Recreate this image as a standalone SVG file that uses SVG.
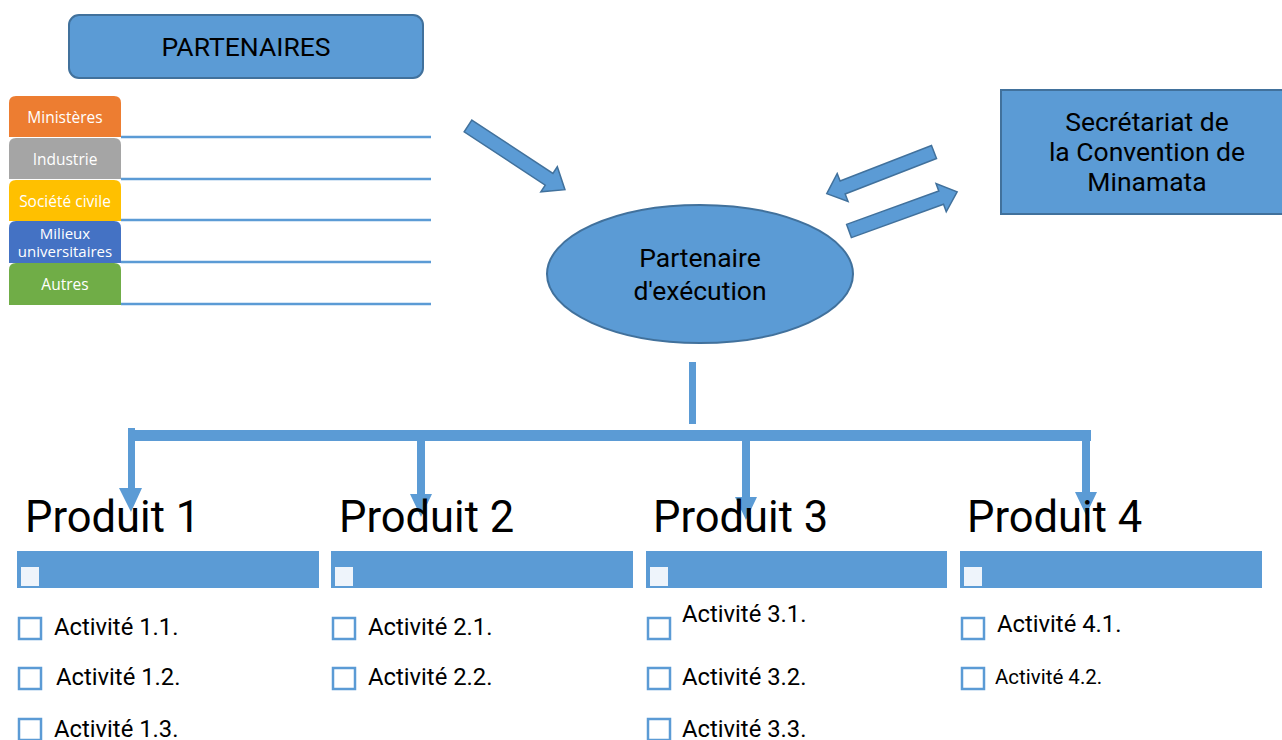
<svg xmlns="http://www.w3.org/2000/svg" width="1282" height="740" viewBox="0 0 1282 740">
  <style>
    .blue { fill: #5B9BD5; }
    .shape { fill: #5B9BD5; stroke: #41719C; stroke-width: 2; }
    .barrow { fill: #5B9BD5; stroke: #41719C; stroke-width: 1.5; stroke-linejoin: miter; }
    .title { font-family: Roboto, "Liberation Sans", sans-serif; fill: #000; text-anchor: middle; }
    .tab { font-family: "Open Sans", "Noto Sans", sans-serif; font-size: 15.5px; fill: #fff; text-anchor: middle; }
    .tab2 { font-size: 15px; }
    .rule { stroke: #5B9BD5; stroke-width: 2.5; }
    .prod { font-family: Roboto, "Liberation Sans", sans-serif; font-size: 43.5px; fill: #000; }
    .act { font-family: Roboto, "Liberation Sans", sans-serif; font-size: 23.8px; fill: #000; }
    .act-sm { font-size: 20.5px; }
    .chk { fill: #fff; stroke: #5B9BD5; stroke-width: 2.5; }
    .mini { fill: #EEF4FB; }
  </style>

  <rect width="1282" height="740" fill="#fff"/>

  <!-- Partners header -->
  <g id="partenaires">
    <rect class="shape" x="69" y="15" width="354" height="63" rx="10"/>
    <text class="title" x="246" y="56" font-size="26.5">PARTENAIRES</text>
  </g>

  <!-- Partner categories -->
  <g id="categories">
    <g id="cat-ministeres">
      <path d="M9 137 V103 Q9 96 16 96 H114 Q121 96 121 103 V137 Z" fill="#ED7D31"/>
      <line class="rule" x1="121" y1="137" x2="431" y2="137"/>
      <text class="tab" x="65" y="123">Ministères</text>
    </g>
    <g id="cat-industrie">
      <path d="M9 179 V145 Q9 138 16 138 H114 Q121 138 121 145 V179 Z" fill="#A5A5A5"/>
      <line class="rule" x1="121" y1="179" x2="431" y2="179"/>
      <text class="tab" x="65" y="165">Industrie</text>
    </g>
    <g id="cat-societe">
      <path d="M9 221 V187 Q9 180 16 180 H114 Q121 180 121 187 V221 Z" fill="#FFC000"/>
      <line class="rule" x1="121" y1="220" x2="431" y2="220"/>
      <text class="tab" x="65" y="207">Société civile</text>
    </g>
    <g id="cat-milieux">
      <path d="M9 263 V228 Q9 221 16 221 H114 Q121 221 121 228 V263 Z" fill="#4472C4"/>
      <line class="rule" x1="121" y1="262" x2="431" y2="262"/>
      <text class="tab tab2" x="65" y="239">Milieux</text>
      <text class="tab tab2" x="65" y="257">universitaires</text>
    </g>
    <g id="cat-autres">
      <path d="M9 305 V270 Q9 263 16 263 H114 Q121 263 121 270 V305 Z" fill="#70AD47"/>
      <line class="rule" x1="121" y1="304" x2="431" y2="304"/>
      <text class="tab" x="65" y="290">Autres</text>
    </g>
  </g>

  <!-- Implementing partner -->
  <g id="partenaire-execution">
    <ellipse class="shape" cx="700" cy="274" rx="153" ry="69"/>
    <text class="title" x="700" y="267" font-size="26.5">Partenaire</text>
    <text class="title" x="700" y="300" font-size="26.5">d'exécution</text>
  </g>

  <!-- Convention secretariat -->
  <g id="secretariat">
    <rect class="shape" x="1001" y="90" width="290" height="124"/>
    <text class="title" x="1147" y="131" font-size="26.5">Secrétariat de</text>
    <text class="title" x="1147" y="161" font-size="26.5">la Convention de</text>
    <text class="title" x="1147" y="191" font-size="26.5">Minamata</text>
  </g>

  <!-- Connectors -->
  <g id="connectors">
    <!-- block arrows -->
    <polygon class="barrow" transform="translate(468 126) rotate(33.3)" points="0,-7 97,-7 97,-15 116,0 97,15 97,7 0,7"/>
    <polygon class="barrow" transform="translate(934 152) rotate(158.8)" points="0,-7 98,-7 98,-15 115,0 98,15 98,7 0,7"/>
    <polygon class="barrow" transform="translate(849 231) rotate(-19.9)" points="0,-7 98,-7 98,-15 115,0 98,15 98,7 0,7"/>

    <!-- distribution tree -->
    <rect class="blue" x="689" y="362" width="7" height="62"/>
    <rect class="blue" x="128" y="430" width="963" height="11"/>
    <polygon class="blue" points="128,428 135,428 135,488 142,488 131,512 119,488 128,488"/>
    <polygon class="blue" points="417,441 425,441 425,494 432,494 421,517 410,494 417,494"/>
    <polygon class="blue" points="742,441 750,441 750,497 757,497 746,520 735,497 742,497"/>
    <polygon class="blue" points="1082,441 1090,441 1090,492 1097,492 1086,515 1075,492 1082,492"/>
  </g>

  <!-- Output 1 -->
  <g id="produit-1">
    <text class="prod" x="25" y="532">Produit 1</text>
    <rect class="blue" x="17" y="551" width="302" height="37"/>
    <rect class="mini" x="21" y="567" width="18" height="19"/>
    <rect class="chk" x="19" y="618" width="22" height="21"/>
    <text class="act" x="54" y="635">Activité 1.1.</text>
    <rect class="chk" x="19" y="668" width="22" height="21"/>
    <text class="act" x="56" y="685">Activité 1.2.</text>
    <rect class="chk" x="19" y="719" width="22" height="21"/>
    <text class="act" x="54" y="737">Activité 1.3.</text>
  </g>

  <!-- Output 2 -->
  <g id="produit-2">
    <text class="prod" x="339" y="532">Produit 2</text>
    <rect class="blue" x="331" y="551" width="302" height="37"/>
    <rect class="mini" x="335" y="567" width="18" height="19"/>
    <rect class="chk" x="333" y="618" width="22" height="21"/>
    <text class="act" x="368" y="635">Activité 2.1.</text>
    <rect class="chk" x="333" y="668" width="22" height="21"/>
    <text class="act" x="368" y="685">Activité 2.2.</text>
  </g>

  <!-- Output 3 -->
  <g id="produit-3">
    <text class="prod" x="653" y="532">Produit 3</text>
    <rect class="blue" x="646" y="551" width="301" height="37"/>
    <rect class="mini" x="650" y="567" width="18" height="19"/>
    <rect class="chk" x="648" y="618" width="22" height="21"/>
    <text class="act" x="682" y="622">Activité 3.1.</text>
    <rect class="chk" x="648" y="668" width="22" height="21"/>
    <text class="act" x="682" y="685">Activité 3.2.</text>
    <rect class="chk" x="648" y="719" width="22" height="21"/>
    <text class="act" x="682" y="737">Activité 3.3.</text>
  </g>

  <!-- Output 4 -->
  <g id="produit-4">
    <text class="prod" x="967" y="532">Produit 4</text>
    <rect class="blue" x="960" y="551" width="302" height="37"/>
    <rect class="mini" x="964" y="567" width="18" height="19"/>
    <rect class="chk" x="962" y="618" width="22" height="21"/>
    <text class="act" x="997" y="632">Activité 4.1.</text>
    <rect class="chk" x="962" y="668" width="22" height="21"/>
    <text class="act act-sm" x="995" y="684">Activité 4.2.</text>
  </g>
</svg>
